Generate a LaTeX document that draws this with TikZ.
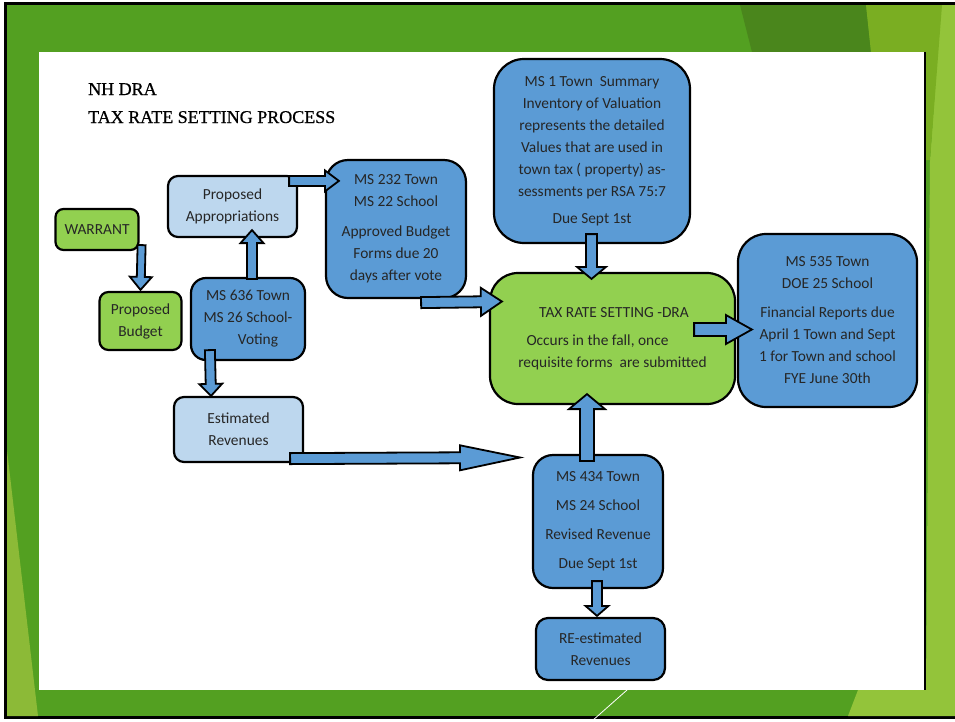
\documentclass[tikz,border=0pt]{standalone}
\usepackage{fontspec}
\setmainfont{Liberation Serif}
\newfontfamily\calib{Carlito}
\newfontfamily\titlefont{Liberation Serif}[FakeBold=0.6]
\usetikzlibrary{calc}

\definecolor{msblue}{HTML}{5B9BD5}
\definecolor{paleblue}{HTML}{BDD7EE}
\definecolor{leaf}{HTML}{92D050}
\definecolor{bggreen}{HTML}{53A021}
\definecolor{bgdark}{HTML}{4A861C}
\definecolor{bgolive}{HTML}{7AAE22}
\definecolor{bglight}{HTML}{93C43A}

\tikzset{
  box/.style       = {rectangle, draw, line width=2.2pt, inner sep=0pt, align=center, text=black!85, font=\calib\fontsize{15.4}{22}\selectfont},
  bluebox/.style   = {box, fill=msblue},
  palebox/.style   = {box, fill=paleblue},
  greenbox/.style  = {box, fill=leaf},
  barrow/.style    = {fill=msblue, draw=black, line width=1.8pt, line join=miter},
  heading/.style   = {anchor=base west, inner sep=0pt, font=\titlefont\fontsize{18}{20}\selectfont}
}

% from, to, shaft half width, head half width, head length
\newcommand\blockarrow[5]{%
  \filldraw[barrow] let \p1=(#1), \p2=(#2), \n1={atan2(\y2-\y1,\x2-\x1)}, \n2={veclen(\x2-\x1,\y2-\y1)} in
    [shift={(\p1)}, rotate=\n1] (0,-#3) -- ({\n2-#5},-#3) -- ({\n2-#5},-#4) -- (\n2,0)
    -- ({\n2-#5},#4) -- ({\n2-#5},#3) -- (0,#3) -- cycle;}

\begin{document}
\begin{tikzpicture}[x=1pt, y=-1pt]
  \useasboundingbox (0,0) rectangle (955,721);

  % slide background
  \fill[white] (0,0) rectangle (955,721);
  \filldraw[fill=bggreen, draw=black, line width=3pt] (5.5,3.5) rectangle (960,717.5);
  \fill[bgdark]  (740,5) -- (866,5) -- (871,52) -- (752,52) -- cycle;
  \fill[bglight] (941,5) -- (955,5) -- (955,716) -- (848,716) -- (858,690) -- (926,690) -- (930,160) -- cycle;
  \fill[bgolive] (866,5) -- (942,5) -- (930,160) -- (926,160) -- (926,52) -- (871,52) -- cycle;
  \fill[bglight!95!black] (7,450) -- (7,716) -- (38,716) -- cycle;
  \fill[white] (39,52) rectangle (924,690);
  \draw[line width=2.5pt] (925,52) -- (925,690);
  \draw[white, line width=0.8pt] (627,690) -- (592,721);

  % title
  \node[heading] (nh)  at (88,95)  {NH DRA};
  \node[heading] (trs) at (88,123) {TAX RATE SETTING PROCESS};

  % boxes
  \node[greenbox, minimum width=83, minimum height=41, rounded corners=8pt]  (warrant) at (97,229.5)   {WARRANT};
  \node[greenbox, minimum width=82, minimum height=58, rounded corners=9pt]  (budget)  at (140.5,321)  {Proposed\\Budget};
  \node[palebox,  minimum width=129, minimum height=61, rounded corners=10pt] (approp) at (232.5,206.5) {Proposed\\Appropriations};
  \node[bluebox,  minimum width=114, minimum height=82, rounded corners=15pt] (ms636)  at (248,319)    {MS 636 Town\\MS 26 School-\\\hspace*{20pt}Voting};
  \node[bluebox,  minimum width=140, minimum height=138, rounded corners=22pt] (ms232) at (396,229)    {MS 232 Town\\MS 22 School\\[8pt]Approved Budget\\Forms due 20\\days after vote};
  \node[bluebox,  minimum width=196, minimum height=184, rounded corners=30pt] (ms1)   at (592,151)    {MS 1 Town\ \ Summary\\Inventory of Valuation\\represents the detailed\\Values that are used in\\town tax ( property) as-\\sessments per RSA 75:7\\[5pt]Due Sept 1st};
  \node[greenbox, minimum width=245, minimum height=131, rounded corners=28pt] (taxrate) at (612.5,338.5) {\hspace*{3pt}TAX RATE SETTING -DRA\\[6pt]Occurs in the fall, once\hspace*{30pt}\mbox{}\\requisite forms\ \ are submitted};
  \node[bluebox,  minimum width=179, minimum height=173, rounded corners=28pt] (ms535) at (827.5,320.5) {MS 535 Town\\DOE 25 School\\[7pt]Financial Reports due\\April 1 Town and Sept\\1 for Town and school\\FYE June 30th};
  \node[palebox,  minimum width=129, minimum height=65, rounded corners=10pt] (estrev) at (238.5,429.5) {Estimated\\Revenues};
  \node[bluebox,  minimum width=130, minimum height=133, rounded corners=20pt] (ms434) at (598,521.5)  {MS 434 Town\\[7pt]MS 24 School\\[7pt]Revised Revenue\\[7pt]Due Sept 1st};
  \node[bluebox,  minimum width=129, minimum height=62, rounded corners=12pt] (rerev)  at (600.5,649)  {RE-estimated\\Revenues};

  \coordinate (revin) at (520,457.5);

  % block arrows
  \blockarrow{[shift={(2,-6)}]warrant.south east}{[shift={(0,-1)}]budget.north}{4}{11}{13}
  \blockarrow{[shift={(4,2)}]ms636.north}{[shift={(19.5,-8)}]approp.south}{5}{11.5}{13}
  \blockarrow{[shift={(-9,6)}]approp.north east}{[shift={(14,22)}]ms232.north west}{5}{10.5}{14}
  \blockarrow{[shift={(20,-11)}]ms636.south west}{[shift={(-27.5,0)}]estrev.north}{5}{11.5}{12}
  \blockarrow{[shift={(-46,3.5)}]ms232.south east}{[shift={(13,-37)}]taxrate.west}{5.5}{14}{21}
  \blockarrow{[shift={(-0.5,-10)}]ms1.south}{[shift={(-21,7)}]taxrate.north}{5.5}{14.5}{12}
  \blockarrow{[shift={(-42,-9)}]taxrate.east}{[shift={(15,9)}]ms535.west}{6.5}{14.5}{26}
  \blockarrow{[shift={(-14,-4.5)}]estrev.south east}{revin}{5.5}{12.5}{60}
  \blockarrow{[shift={(-11,7)}]ms434.north}{[shift={(-25.5,-11)}]taxrate.south}{7}{18}{15}
  \blockarrow{[shift={(-1,-8)}]ms434.south}{[shift={(-3.5,-1)}]rerev.north}{5}{11.5}{10}
\end{tikzpicture}
\end{document}
